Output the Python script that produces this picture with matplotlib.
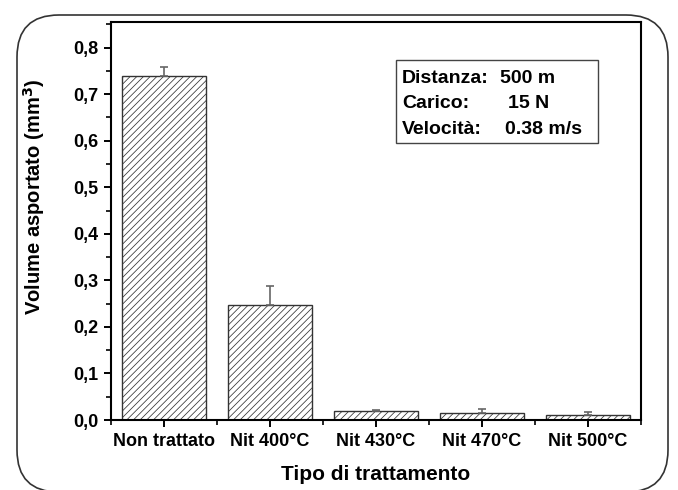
import matplotlib
matplotlib.use("Agg")
import matplotlib.pyplot as plt
import matplotlib.transforms as mtransforms
from matplotlib.patches import FancyBboxPatch
from matplotlib.ticker import FuncFormatter, MultipleLocator, FixedLocator
import numpy as np

categories = ["Non trattato", "Nit 400°C", "Nit 430°C", "Nit 470°C", "Nit 500°C"]
volume = [0.740, 0.248, 0.019, 0.015, 0.011]
errors = [0.018, 0.040, 0.002, 0.008, 0.006]
info_labels = ["Distanza:", "Carico:", "Velocità:"]
info_values = ["500 m", "15 N", "0.38 m/s"]

plt.rcParams["font.family"] = ["Liberation Sans", "DejaVu Sans"]
plt.rcParams["font.weight"] = "bold"
plt.rcParams["hatch.color"] = "#606060"
plt.rcParams["hatch.linewidth"] = 0.55

fig = plt.figure(figsize=(6.78, 4.90), dpi=100)
ax = fig.add_axes([111 / 678, 70 / 490, 530 / 678, 398 / 490])

x = np.arange(len(categories))
ax.bar(x, volume, width=0.8, facecolor="white", edgecolor="#333333",
       linewidth=1.0, hatch="/////", zorder=2)
ax.errorbar(x, volume, yerr=[np.zeros(len(errors)), errors], fmt="none",
            ecolor="#666666", elinewidth=1.2, capsize=3, capthick=1.2, zorder=3)

ax.set_xlim(-0.5, len(categories) - 0.5)
ax.set_ylim(0, 0.855)
ax.set_xticks(x)
ax.set_xticklabels(categories)
ax.xaxis.set_minor_locator(FixedLocator(np.arange(-0.5, len(categories), 1.0)))
ax.yaxis.set_major_locator(MultipleLocator(0.1))
ax.yaxis.set_minor_locator(MultipleLocator(0.05))
ax.yaxis.set_major_formatter(FuncFormatter(lambda v, p: f"{v:.1f}".replace(".", ",")))

ax.tick_params(axis="both", which="major", direction="out", length=5, width=1.4,
               labelsize=13, pad=4, top=False, right=False)
ax.tick_params(axis="both", which="minor", direction="out", length=3.5, width=1.2,
               top=False, right=False)
for s in ax.spines.values():
    s.set_linewidth(1.5)

ax.set_ylabel("Volume asportato (mm$^\\mathbf{3}$)", fontsize=14.5, fontweight="bold")
ax.yaxis.set_label_coords(-0.12, 0.56)
ax.set_xlabel("Tipo di trattamento", fontsize=15, fontweight="bold")
ax.xaxis.set_label_coords(0.5, -0.112)

# info box
ax.add_patch(plt.Rectangle((0.538, 0.696), 0.381, 0.209, transform=ax.transAxes,
                           facecolor="white", edgecolor="#444444", linewidth=1.0, zorder=4))
value_x = [0.734, 0.749, 0.743]
for i, (lab, val) in enumerate(zip(info_labels, info_values)):
    yy = 0.857 - i * 0.063
    ax.text(0.549, yy, lab, transform=ax.transAxes, fontsize=14, fontweight="bold",
            va="center", ha="left", zorder=5)
    ax.text(value_x[i], yy, val, transform=ax.transAxes, fontsize=14, fontweight="bold",
            va="center", ha="left", zorder=5)

# rounded frame around the whole chart
frame = FancyBboxPatch((17, -2), 651, 477, boxstyle="round,pad=0,rounding_size=42",
                       transform=mtransforms.IdentityTransform(), facecolor="none",
                       edgecolor="#333333", linewidth=1.2)
fig.add_artist(frame)

fig.savefig("out.png", dpi=100)
